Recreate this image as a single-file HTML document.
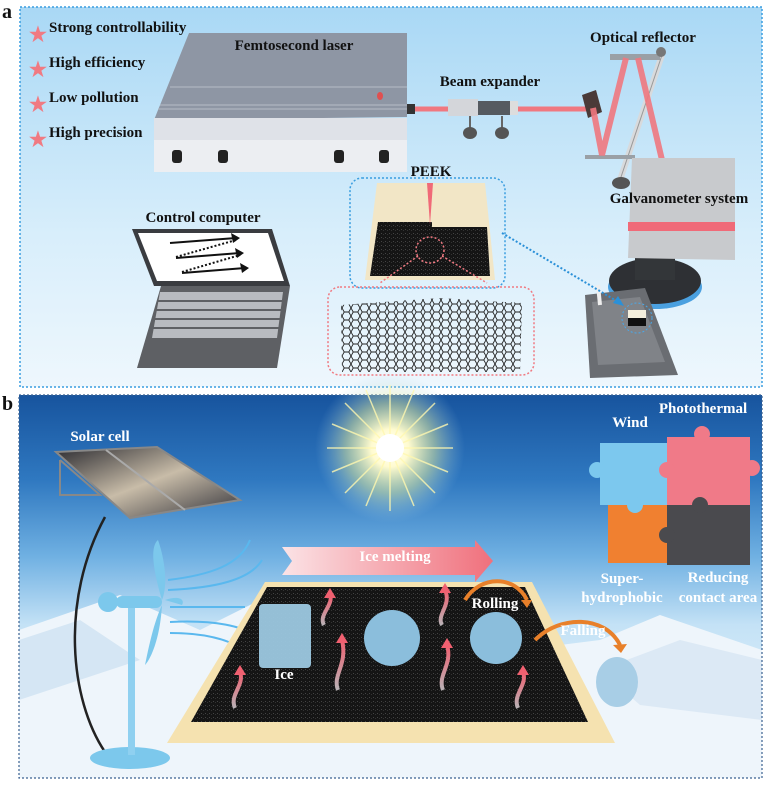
<!DOCTYPE html>
<html><head><meta charset="utf-8"><style>
html,body{margin:0;padding:0;background:#fff}
svg{display:block}
text{font-family:"Liberation Serif",serif;font-weight:bold}
</style></head><body>
<svg width="765" height="788" viewBox="0 0 765 788" xmlns="http://www.w3.org/2000/svg">
<defs>
<linearGradient id="ga" x1="0" y1="0" x2="0" y2="1">
<stop offset="0" stop-color="#a9d8f5"/><stop offset="0.6" stop-color="#d8eefb"/><stop offset="1" stop-color="#eef7fd"/>
</linearGradient>
<linearGradient id="gb" x1="0" y1="0" x2="0" y2="1">
<stop offset="0" stop-color="#17549e"/><stop offset="0.22" stop-color="#2f78c0"/><stop offset="0.42" stop-color="#6fb0e2"/><stop offset="0.6" stop-color="#c4e2f6"/><stop offset="1" stop-color="#f4f9fd"/>
</linearGradient>
<radialGradient id="sun"><stop offset="0" stop-color="#ffffff"/><stop offset="0.25" stop-color="#fffbd0"/><stop offset="0.6" stop-color="#e8f0a0" stop-opacity="0.5"/><stop offset="1" stop-color="#9cc8e8" stop-opacity="0"/></radialGradient>
<linearGradient id="arr" x1="0" x2="1"><stop offset="0" stop-color="#fbe3e6"/><stop offset="1" stop-color="#f0707c"/></linearGradient>
<linearGradient id="pa" x1="0" y1="1" x2="0" y2="0"><stop offset="0" stop-color="#b9b2b6"/><stop offset="1" stop-color="#f06070"/></linearGradient>
<linearGradient id="panel" x1="0" x2="1" y1="0" y2="1"><stop offset="0" stop-color="#2a2a30"/><stop offset="0.5" stop-color="#c8bca8"/><stop offset="1" stop-color="#303038"/></linearGradient>
<pattern id="hex" width="9" height="8" patternUnits="userSpaceOnUse"><path d="M0 4 L2.2 0 L6.8 0 L9 4 L6.8 8 L2.2 8 Z" fill="none" stroke="#222" stroke-width="0.9"/></pattern>
<pattern id="rough" width="4" height="4" patternUnits="userSpaceOnUse"><rect width="4" height="4" fill="#151515"/><rect x="1" y="1" width="1" height="1" fill="#444"/><rect x="3" y="2" width="1" height="1" fill="#333"/></pattern>
</defs>

<rect x="20" y="7" width="742" height="380" fill="url(#ga)"/>
<rect x="20" y="7" width="742" height="380" fill="none" stroke="#3a9ee0" stroke-width="1.5" stroke-dasharray="2,2"/>
<text x="2" y="18" font-size="20" fill="#111">a</text>

<g font-size="15" fill="#111">
<text x="29" y="41" fill="#f07a82" font-size="20">★</text><text x="49" y="32">Strong controllability</text>
<text x="29" y="76" fill="#f07a82" font-size="20">★</text><text x="49" y="67">High efficiency</text>
<text x="29" y="111" fill="#f07a82" font-size="20">★</text><text x="49" y="102">Low pollution</text>
<text x="29" y="146" fill="#f07a82" font-size="20">★</text><text x="49" y="137">High precision</text>
</g>

<polygon points="189,33 407,33 407,117 154,120" fill="#8e96a4"/>
<line x1="170" y1="87" x2="407" y2="87" stroke="#b5bcc6" stroke-width="1"/>
<line x1="160" y1="105" x2="407" y2="105" stroke="#b5bcc6" stroke-width="1"/>
<line x1="158" y1="109" x2="407" y2="109" stroke="#b5bcc6" stroke-width="1"/>
<rect x="154" y="118" width="253" height="54" fill="#eceef2"/>
<rect x="154" y="118" width="253" height="22" fill="#dfe2e8"/>
<ellipse cx="380" cy="96" rx="3" ry="4" fill="#e05050"/>
<g fill="#222"><rect x="172" y="150" width="10" height="13" rx="3"/><rect x="218" y="150" width="10" height="13" rx="3"/><rect x="334" y="150" width="10" height="13" rx="3"/><rect x="379" y="150" width="10" height="13" rx="3"/></g>
<text x="294" y="50" font-size="15" text-anchor="middle" fill="#111">Femtosecond laser</text>

<rect x="407" y="104" width="8" height="10" fill="#333"/>
<line x1="415" y1="109" x2="592" y2="109" stroke="#f07880" stroke-width="5"/>
<rect x="448" y="99" width="30" height="17" fill="#d4d6da"/><rect x="478" y="101" width="40" height="14" fill="#555a60"/><rect x="510" y="101" width="8" height="14" fill="#ddd"/>
<line x1="470" y1="116" x2="470" y2="130" stroke="#666" stroke-width="2"/><line x1="502" y1="116" x2="502" y2="130" stroke="#666" stroke-width="2"/>
<ellipse cx="470" cy="133" rx="7" ry="6" fill="#555"/><ellipse cx="502" cy="133" rx="7" ry="6" fill="#555"/>
<text x="490" y="86" font-size="15" text-anchor="middle" fill="#111">Beam expander</text>

<line x1="662" y1="55" x2="620" y2="180" stroke="#d8dadc" stroke-width="6"/>
<line x1="662" y1="55" x2="620" y2="180" stroke="#999" stroke-width="1"/>
<rect x="610" y="54" width="50" height="6" fill="#9aa0a6"/>
<circle cx="661" cy="52" r="5" fill="#777"/>
<rect x="585" y="155" width="50" height="4" fill="#9aa0a6"/>
<ellipse cx="621" cy="183" rx="9" ry="6" fill="#555"/>
<polygon points="582,95 596,90 602,112 588,118" fill="#4a3a38"/>
<g stroke="#f07880" stroke-width="6" fill="none" opacity="0.9">
<polyline points="593,108 602,155 626,58"/>
<line x1="638" y1="58" x2="662" y2="160"/>
</g>
<text x="643" y="42" font-size="15" text-anchor="middle" fill="#111">Optical reflector</text>

<ellipse cx="655" cy="287" rx="47" ry="22" fill="#4aa0e0"/>
<ellipse cx="655" cy="281" rx="46" ry="23" fill="#2e3034"/>
<rect x="635" y="235" width="40" height="45" fill="#333639"/>
<polygon points="632,158 735,158 735,260 628,258" fill="#c8cacd"/>
<rect x="628" y="222" width="107" height="9" fill="#f06a78"/>
<text x="679" y="203" font-size="15" text-anchor="middle" fill="#111">Galvanometer system</text>

<polygon points="585,295 645,288 678,375 590,378" fill="#6a6d72"/>
<polygon points="592,302 640,297 665,362 598,365" fill="#808388"/>
<rect x="628" y="310" width="18" height="16" fill="#f4eedc"/><rect x="628" y="318" width="18" height="8" fill="#111"/>
<circle cx="637" cy="318" r="15" fill="none" stroke="#4aa8e8" stroke-width="1" stroke-dasharray="2,2"/>
<line x1="598" y1="285" x2="600" y2="305" stroke="#eee" stroke-width="4"/>

<rect x="350" y="178" width="155" height="110" rx="12" fill="none" stroke="#3a9ee0" stroke-width="1.5" stroke-dasharray="2,2"/>
<polygon points="377,183 485,183 495,280 365,280" fill="#f2e6c6"/>
<polygon points="378,222 432,222 432,227 487,227 490,276 370,276" fill="url(#rough)"/>
<polygon points="427,183 433,183 430,225" fill="#f06a78"/>
<ellipse cx="430" cy="250" rx="14" ry="13" fill="none" stroke="#f07a82" stroke-width="1.5" stroke-dasharray="2,2"/>
<line x1="418" y1="256" x2="380" y2="283" stroke="#f07a82" stroke-width="1.5" stroke-dasharray="2,2"/>
<line x1="442" y1="256" x2="487" y2="283" stroke="#f07a82" stroke-width="1.5" stroke-dasharray="2,2"/>
<text x="431" y="176" font-size="15" text-anchor="middle" fill="#111">PEEK</text>
<rect x="328" y="287" width="206" height="88" rx="12" fill="none" stroke="#f07a82" stroke-width="1.5" stroke-dasharray="2,2"/>
<polygon points="341,305 440,298 522,303 520,372 342,372" fill="url(#hex)"/>
<line x1="502" y1="233" x2="620" y2="303" stroke="#2a90d8" stroke-width="2" stroke-dasharray="2,2"/>
<polygon points="624,306 613,303 618,296" fill="#2a90d8"/>

<text x="203" y="222" font-size="15" text-anchor="middle" fill="#111">Control computer</text>
<polygon points="132,229 272,229 290,286 154,286" fill="#3a3c40"/>
<polygon points="138,233 268,233 284,281 157,281" fill="#fff"/>
<g stroke="#111" stroke-width="2" fill="none">
<line x1="170" y1="243" x2="236" y2="238"/><line x1="176" y1="258" x2="240" y2="253"/><line x1="182" y1="273" x2="245" y2="268"/>
<line x1="176" y1="257" x2="236" y2="240" stroke-dasharray="2,2"/><line x1="182" y1="272" x2="240" y2="255" stroke-dasharray="2,2"/>
</g>
<g fill="#111"><polygon points="240,238 231,233 233,243"/><polygon points="244,253 235,248 237,258"/><polygon points="249,268 240,263 242,273"/></g>
<polygon points="161,286 290,286 277,368 137,368" fill="#5e6064"/>
<polygon points="160,292 283,292 277,338 152,338" fill="#b8bbc0"/>
<g stroke="#5e6064" stroke-width="2"><line x1="158" y1="301" x2="282" y2="301"/><line x1="156" y1="310" x2="281" y2="310"/><line x1="154" y1="319" x2="280" y2="319"/><line x1="153" y1="328" x2="279" y2="328"/></g>

<rect x="19" y="395" width="743" height="383" fill="url(#gb)"/>
<polygon points="19,630 120,595 200,630 260,600 330,640 420,625 520,650 600,640 660,615 762,650 762,778 19,778" fill="#eef5fb"/>
<polygon points="19,640 80,620 140,660 19,700" fill="#d5e6f4"/>
<polygon points="600,670 680,640 762,660 762,720 640,705" fill="#dce9f5"/>
<rect x="19" y="395" width="743" height="383" fill="none" stroke="#3a6090" stroke-width="1.2" stroke-dasharray="2,2"/>
<text x="2" y="410" font-size="20" fill="#111">b</text>

<circle cx="390" cy="448" r="75" fill="url(#sun)"/>
<g stroke="#fff8b0" stroke-width="1.5" opacity="0.8">
<line x1="390" y1="385" x2="390" y2="511"/><line x1="327" y1="448" x2="453" y2="448"/><line x1="345" y1="403" x2="435" y2="493"/><line x1="435" y1="403" x2="345" y2="493"/>
<line x1="366" y1="390" x2="414" y2="506"/><line x1="414" y1="390" x2="366" y2="506"/><line x1="332" y1="424" x2="448" y2="472"/><line x1="332" y1="472" x2="448" y2="424"/>
</g>
<circle cx="390" cy="448" r="14" fill="#fff"/>

<text x="100" y="441" font-size="15" text-anchor="middle" fill="#fff">Solar cell</text>
<polygon points="56,452 157,447 240,500 130,518" fill="url(#panel)" stroke="#888" stroke-width="2"/>
<line x1="106" y1="450" x2="185" y2="510" stroke="#aaa" stroke-width="2"/>
<polyline points="60,460 60,495 100,495 60,460" fill="none" stroke="#888" stroke-width="2"/>
<path d="M105 517 C 60 600, 70 700, 105 752" fill="none" stroke="#222" stroke-width="2.5"/>

<ellipse cx="130" cy="758" rx="40" ry="11" fill="#7cc8ec"/>
<rect x="128" y="605" width="7" height="150" fill="#8fd0f0"/>
<rect x="116" y="596" width="46" height="12" rx="6" fill="#7cc8ec"/>
<circle cx="108" cy="602" r="10" fill="#7cc8ec"/>
<path d="M162 600 C 150 560, 152 545, 158 540 C 165 560, 168 585, 162 600 Z" fill="#7cc8ec"/>
<path d="M162 605 C 160 640, 150 660, 145 665 C 150 640, 155 620, 162 605 Z" fill="#7cc8ec"/>
<path d="M165 600 C 180 595, 185 600, 182 605 Z" fill="#7cc8ec"/>
<g stroke="#5ab8ee" stroke-width="2" fill="none">
<path d="M168 580 C 210 575, 240 565, 250 540"/><path d="M168 590 C 215 588, 250 580, 262 560"/>
<path d="M170 607 L 245 607"/><path d="M170 622 C 210 620, 250 625, 255 640"/><path d="M170 633 C 215 633, 255 645, 258 672"/>
</g>

<polygon points="282,547 475,547 475,540 493,561 475,582 475,575 282,575 292,561" fill="url(#arr)"/>
<text x="395" y="561" font-size="15" text-anchor="middle" fill="#fff">Ice melting</text>

<polygon points="265,582 532,582 615,743 167,743" fill="#f5e2b0"/>
<polygon points="267,587 525,587 588,722 191,722" fill="url(#rough)"/>

<rect x="259" y="604" width="52" height="64" rx="4" fill="#9cc8e0" opacity="0.95"/>
<text x="284" y="679" font-size="15" text-anchor="middle" fill="#fff">Ice</text>
<ellipse cx="392" cy="638" rx="28" ry="28" fill="#8bbedc"/>
<ellipse cx="496" cy="638" rx="26" ry="26" fill="#8bbedc"/>
<ellipse cx="617" cy="682" rx="21" ry="25" fill="#a8cee6"/>
<path d="M465 600 C 480 575, 515 575, 527 600" fill="none" stroke="#e8802a" stroke-width="4"/>
<polygon points="521,600 532,600 527,608" fill="#e8802a"/>
<text x="495" y="608" font-size="15" text-anchor="middle" fill="#fff">Rolling</text>
<path d="M535 640 C 560 615, 605 615, 620 645" fill="none" stroke="#e8802a" stroke-width="4"/>
<polygon points="613,645 627,644 621,653" fill="#e8802a"/>
<text x="583" y="635" font-size="15" text-anchor="middle" fill="#fff">Falling</text>

<g stroke="url(#pa)" stroke-width="4" fill="none">
<path d="M324 625 C 318 615, 334 605, 330 595"/><path d="M442 625 C 436 615, 452 605, 445 590"/>
<path d="M235 708 C 229 695, 245 685, 240 672"/><path d="M338 690 C 332 675, 348 665, 342 640"/>
<path d="M443 690 C 437 675, 453 665, 447 645"/><path d="M518 708 C 512 695, 528 685, 523 672"/>
</g>
<g fill="#f06070">
<polygon points="330,588 324,598 336,598"/><polygon points="445,583 439,593 451,593"/>
<polygon points="240,665 234,675 246,675"/><polygon points="342,633 336,643 348,643"/>
<polygon points="447,638 441,648 453,648"/><polygon points="523,665 517,675 529,675"/>
</g>

<rect x="600" y="443" width="67" height="62" fill="#7cc8ee"/>
<circle cx="597" cy="470" r="8" fill="#7cc8ee"/>
<rect x="667" y="437" width="83" height="68" fill="#f07a88"/>
<circle cx="702" cy="434" r="8" fill="#f07a88"/><circle cx="752" cy="468" r="8" fill="#f07a88"/><circle cx="667" cy="470" r="8" fill="#f07a88"/>
<rect x="608" y="505" width="59" height="58" fill="#f08030"/>
<circle cx="635" cy="505" r="8" fill="#7cc8ee"/>
<rect x="667" y="505" width="83" height="60" fill="#4a4a4e"/>
<circle cx="700" cy="505" r="8" fill="#4a4a4e"/><circle cx="667" cy="535" r="8" fill="#4a4a4e"/>
<g font-size="15" text-anchor="middle" fill="#fff">
<text x="630" y="427">Wind</text><text x="703" y="413">Photothermal</text>
<text x="622" y="583">Super-</text><text x="622" y="602">hydrophobic</text>
<text x="718" y="582">Reducing</text><text x="718" y="602">contact area</text>
</g>
</svg>
</body></html>
